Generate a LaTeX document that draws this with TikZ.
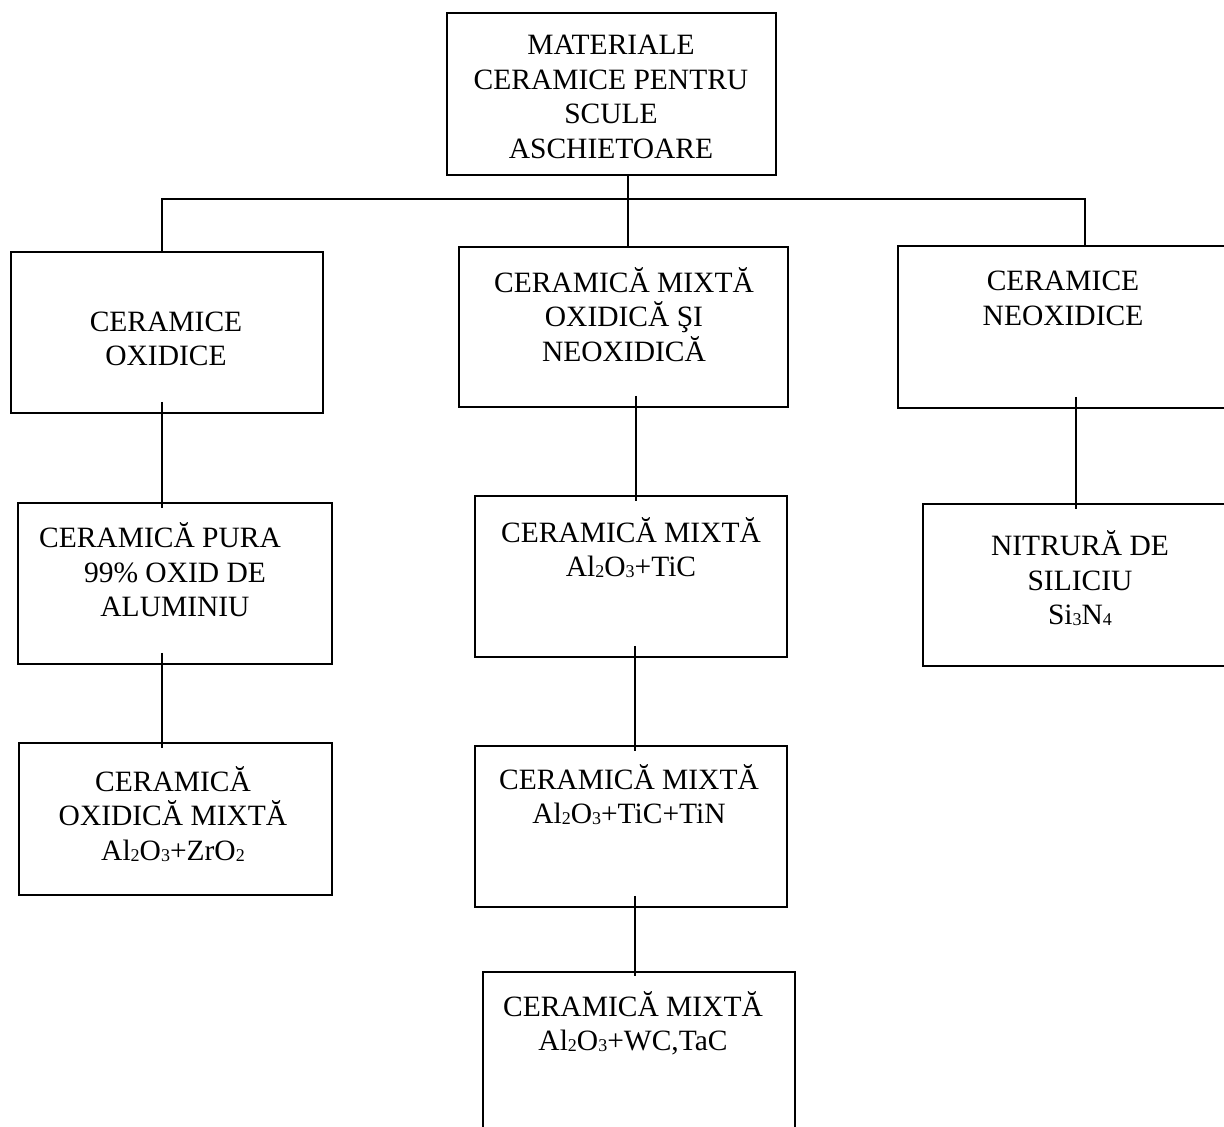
\documentclass[tikz,border=0pt]{standalone}
\usepackage{fontspec}
\setmainfont{Liberation Serif}
\usetikzlibrary{calc}
\newcommand\dsub[1]{\raisebox{-1pt}{\fontsize{18}{18}\selectfont #1}}
\begin{document}
\begin{tikzpicture}[x=1pt,y=-1pt,
  box/.style={draw=black,line width=1.8pt,rectangle,inner sep=0pt},
  txt/.style={align=center,inner sep=0pt,font=\fontsize{29.5}{34.5}\selectfont},
  conn/.style={draw=black,line width=1.8pt}]
\useasboundingbox (0,0) rectangle (1224,1127);
\clip (0,0) rectangle (1224,1127);
% boxes
\node[box,minimum width=329pt,minimum height=162pt] (top) at (611.5,94) {};
\node[box,minimum width=312pt,minimum height=161pt] (L1) at (167,332.5) {};
\node[box,minimum width=329pt,minimum height=160pt] (M1) at (623.5,327) {};
\node[box,minimum width=330pt,minimum height=162pt] (R1) at (1063,327) {};
\node[box,minimum width=314pt,minimum height=161pt] (L2) at (175,583.5) {};
\node[box,minimum width=312pt,minimum height=161pt] (M2) at (631,576.5) {};
\node[box,minimum width=314pt,minimum height=162pt] (R2) at (1080,585) {};
\node[box,minimum width=313pt,minimum height=152pt] (L3) at (175.5,819) {};
\node[box,minimum width=312pt,minimum height=161pt] (M3) at (631,826.5) {};
\node[box,minimum width=312pt,minimum height=161pt] (M4) at (639,1052.5) {};
% texts
\node[txt] (topT) at (611,97) {MATERIALE\\CERAMICE PENTRU\\SCULE\\ASCHIETOARE};
\node[txt] (L1T) at (166,339) {CERAMICE\\OXIDICE};
\node[txt] (M1T) at (624,314.5) {CERAMICĂ MIXTĂ\\OXIDICĂ ŞI\\NEOXIDICĂ};
\node[txt] (R1T) at (1063,298.5) {CERAMICE\\NEOXIDICE};
\node[txt] (L2T) at (175,570) {CERAMICĂ PURA\hspace*{30pt}\\99\% OXID DE\\ALUMINIU};
\node[txt] (M2T) at (631,547.5) {CERAMICĂ MIXTĂ\\Al\dsub{2}O\dsub{3}+TiC};
\node[txt] (R2T) at (1080,578.5) {NITRURĂ DE\\SILICIU\\Si\dsub{3}N\dsub{4}};
\node[txt] (L3T) at (173,814) {CERAMICĂ\\OXIDICĂ MIXTĂ\\Al\dsub{2}O\dsub{3}+ZrO\dsub{2}};
\node[txt] (M3T) at (629,794.5) {CERAMICĂ MIXTĂ\\Al\dsub{2}O\dsub{3}+TiC+TiN};
\node[txt] (M4T) at (633,1023.5) {CERAMICĂ MIXTĂ\\Al\dsub{2}O\dsub{3}+WC,TaC};
% bus
\coordinate (busL) at (162,199);
\coordinate (busM) at (628,199);
\coordinate (busR) at (1085,199);
\draw[conn] (busM |- top.south) -- (busM |- M1.north);
\draw[conn] (busL |- L1.north) -- (busL) -- (busR) -- (busR |- R1.north);
% chains
\coordinate (xL) at (162,0);
\coordinate (xM) at (636,0);
\coordinate (xM2) at (635,0);
\coordinate (xR) at (1076,0);
\draw[conn] ($(xL |- L1.south)+(0,-12)$) -- ($(xL |- L2.north)+(0,6)$);
\draw[conn] ($(xL |- L2.south)+(0,-12)$) -- ($(xL |- L3.north)+(0,6)$);
\draw[conn] ($(xM |- M1.south)+(0,-12)$) -- ($(xM |- M2.north)+(0,6)$);
\draw[conn] ($(xM2 |- M2.south)+(0,-12)$) -- ($(xM2 |- M3.north)+(0,6)$);
\draw[conn] ($(xM2 |- M3.south)+(0,-12)$) -- ($(xM2 |- M4.north)+(0,5)$);
\draw[conn] ($(xR |- R1.south)+(0,-12)$) -- ($(xR |- R2.north)+(0,6)$);
\end{tikzpicture}
\end{document}
